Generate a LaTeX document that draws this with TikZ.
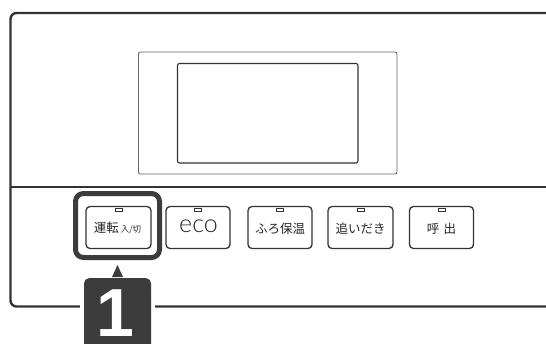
\documentclass[tikz,border=0pt]{standalone}
\usepackage{fontspec}
\newfontfamily\jp{Noto Sans CJK JP}
\newfontfamily\ecofont{Lato Light}
\newfontfamily\numfont{Liberation Sans}
\definecolor{frm}{HTML}{333333}
\definecolor{markc}{HTML}{3C3C3C}
\tikzset{
  btn/.style={draw=frm, line width=1.3pt, rounded corners=4pt, minimum width=64pt, minimum height=42pt, inner sep=0pt},
  lamp/.style={draw=frm, line width=0.9pt},
  btntext/.style={font=\jp\fontsize{12.5}{12.5}\selectfont, text=black!85, inner sep=0pt},
}
\begin{document}
\begin{tikzpicture}[x=1pt,y=-1pt]
\useasboundingbox (0,0) rectangle (546,343);
% outer frame
\draw[frm, line width=2.4pt, rounded corners=6pt] (10.5,13) rectangle (553,306.5);
\draw[frm, line width=1.6pt] (10.5,187) -- (553,187);
% display
\draw[black!60, line width=0.9pt, rounded corners=2pt] (138.5,52) rectangle (397,174);
\draw[frm, line width=1.1pt, rounded corners=2pt] (177.5,63.5) rectangle (358,163);
% buttons
\node[btn, minimum width=65pt] (b1) at (118.5,227.5) {};
\node[btn] (b2) at (198,227.5) {};
\node[btn] (b3) at (280,227.5) {};
\node[btn, minimum width=65pt] (b4) at (360.5,227.5) {};
\node[btn] (b5) at (441.5,227.5) {};
\foreach \b in {b1,b2,b3,b4,b5}{
  \draw[lamp] ([xshift=-3.5pt,yshift=-2.5pt]\b.north) rectangle ([xshift=3.5pt,yshift=-6pt]\b.north);
}
\node[btntext] (t1) at (117.5,228.5) {運転\,{\fontsize{8.5}{8.5}\selectfont 入/切}};
\node[font=\ecofont\fontsize{25}{25}\selectfont, text=black!85, inner sep=0pt] (t2) at (198.5,226) {eco};
\node[btntext] (t3) at (280,228.5) {ふろ保温};
\node[btntext] (t4) at (360.5,228.5) {追いだき};
\node[btntext] (t5) at (441.5,228.5) {呼\,\,出};
% highlight
\node[draw=markc, line width=5pt, rounded corners=8pt, minimum width=84pt, minimum height=64pt, inner sep=0pt] (hl) at (117.5,225.5) {};
% number label
\fill[white] (80,298) rectangle (154.5,343);
\node[fill=markc, rounded corners=5pt, minimum width=67pt, minimum height=75pt, inner sep=0pt, anchor=north] (lab) at (117.5,278) {};
\fill[markc] ([xshift=-5.5pt,yshift=1pt]lab.north) -- ([yshift=13pt]lab.north) -- ([xshift=5.5pt,yshift=1pt]lab.north) -- cycle;
\node[font=\numfont\bfseries\fontsize{68}{68}\selectfont, text=white, inner sep=0pt, anchor=base] (one) at (115,336) {1};
\end{tikzpicture}
\end{document}
